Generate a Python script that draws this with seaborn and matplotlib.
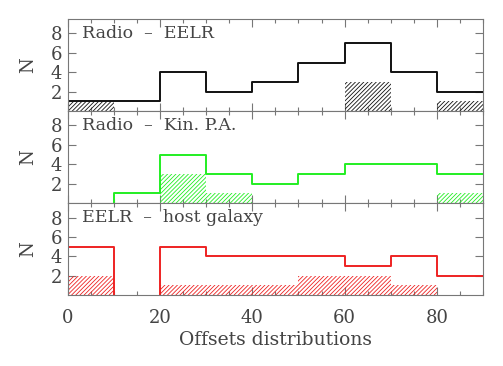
import matplotlib
matplotlib.use('Agg')
import matplotlib.pyplot as plt
import numpy as np
import pandas as pd
import seaborn as sns

sns.set_theme(style='white')
plt.rcParams['font.family'] = ['DejaVu Serif']
plt.rcParams['hatch.linewidth'] = 0.6

# bin edges (degrees)
edges = [0, 10, 20, 30, 40, 50, 60, 70, 80, 90]
centers = [5, 15, 25, 35, 45, 55, 65, 75, 85]

radio_eelr = [1, 1, 4, 2, 3, 5, 7, 4, 2]
radio_eelr_sub = [1, 0, 0, 0, 0, 0, 3, 0, 1]
radio_kin = [0, 1, 5, 3, 2, 3, 4, 4, 3]
radio_kin_sub = [0, 0, 3, 1, 0, 0, 0, 0, 1]
eelr_host = [5, 0, 5, 4, 4, 4, 3, 4, 2]
eelr_host_sub = [2, 0, 1, 1, 1, 2, 2, 1, 0]

panels = [
    ('Radio  \u2013  EELR', radio_eelr, radio_eelr_sub, '#111111'),
    ('Radio  \u2013  Kin. P.A.', radio_kin, radio_kin_sub, '#22ee22'),
    ('EELR  \u2013  host galaxy', eelr_host, eelr_host_sub, '#ee2222'),
]

text_col = '#444444'
spine_col = '#777777'


def drop_zero_runs(line):
    # redraw the step outline without the flat segments lying on N=0
    x, y = line.get_data()
    x = np.asarray(x, float)
    y = np.asarray(y, float)
    xs, ys = [], []
    for i in range(len(x) - 1):
        xs.append(x[i]); ys.append(y[i])
        if y[i] == 0:
            xs.append(np.nan); ys.append(np.nan)
        xs.append(x[i + 1]); ys.append(y[i])
    line.set_drawstyle('default')
    line.set_data(xs, ys)


def main():
    fig = plt.figure(figsize=(5.03, 3.66), dpi=100)
    left, width = 0.135, 0.825
    h = 0.2514
    bottom0 = 0.194
    for i, (label, counts, sub, col) in enumerate(panels):
        ax = fig.add_axes([left, bottom0 + (2 - i) * h, width, h])
        df = pd.DataFrame({'x': centers, 'n': counts, 'm': sub})

        # hatched sub-sample
        sns.histplot(data=df, x='x', weights='m', bins=edges, element='bars',
                     fill=True, ax=ax, color=col)
        for p in ax.patches:
            p.set_facecolor('none')
            p.set_edgecolor(col)
            p.set_hatch('////////')
            p.set_linewidth(0)

        # full sample, step outline
        sns.histplot(data=df, x='x', weights='n', bins=edges, element='step',
                     fill=False, ax=ax, color=col, linewidth=1.4)
        for ln in ax.lines:
            drop_zero_runs(ln)

        ax.set_xlim(0, 90)
        ax.set_ylim(0, 9.5)
        ax.set_yticks([2, 4, 6, 8])
        ax.set_xticks([0, 20, 40, 60, 80])
        ax.set_xticks(np.arange(0, 91, 5), minor=True)
        ax.tick_params(which='both', direction='in', top=True, right=True,
                       bottom=True, left=True, color=spine_col, labelsize=13,
                       labelcolor=text_col)
        ax.tick_params(axis='y', pad=4)
        ax.tick_params(axis='x', pad=10)
        ax.tick_params(which='major', length=6, width=0.8)
        ax.tick_params(which='minor', length=3, width=0.8)
        for s in ax.spines.values():
            s.set_color(spine_col)
            s.set_linewidth(0.8)
        ax.set_ylabel('N', fontsize=13, color=text_col, labelpad=10)
        ax.set_xlabel('')
        ax.text(0.035, 0.93, label, transform=ax.transAxes, ha='left', va='top',
                fontsize=12.5, color=text_col)
        if i < 2:
            ax.tick_params(labelbottom=False)
        else:
            ax.set_xlabel('Offsets distributions', fontsize=13.5,
                          color=text_col, labelpad=3)
        ax.grid(False)

    fig.savefig('out.png', dpi=100)


if __name__ == '__main__':
    main()
